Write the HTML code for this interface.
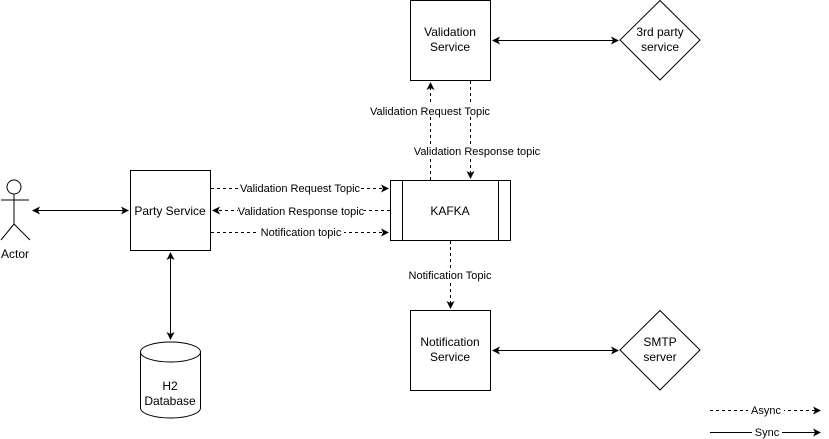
<!DOCTYPE html>
<html><head><style>body{margin:0;background:#fff}svg{display:block}text{font-family:"Liberation Sans",sans-serif;font-size:12px;fill:#000}</style></head><body>
<svg width="829" height="439" viewBox="0 0 829 439" xmlns="http://www.w3.org/2000/svg">
<defs><marker id="a" markerWidth="8" markerHeight="8" refX="7" refY="4" orient="auto-start-reverse" markerUnits="userSpaceOnUse"><path d="M0,0 L8,4 L0,8 L2,4 Z" fill="#000"/></marker></defs>
<g stroke="#000" fill="none" stroke-width="1">
<circle cx="14" cy="187" r="7" fill="#fff"/>
<line x1="14" y1="194" x2="14" y2="224"/><line x1="1" y1="200" x2="29" y2="200"/>
<line x1="14" y1="224" x2="1" y2="240"/><line x1="14" y1="224" x2="30" y2="240"/>
<rect x="130.5" y="170.5" width="80" height="80" fill="#fff"/>
<rect x="390.5" y="180.5" width="120" height="60" fill="#fff"/>
<line x1="402.5" y1="180.5" x2="402.5" y2="240.5"/><line x1="498.5" y1="180.5" x2="498.5" y2="240.5"/>
<rect x="410.5" y="0.5" width="80" height="80" fill="#fff"/>
<rect x="410.5" y="310.5" width="80" height="80" fill="#fff"/>
<path d="M660,0.5 L700,40 L660,80 L620,40 Z" fill="#fff"/>
<path d="M660,310.5 L700,350 L660,390 L620,350 Z" fill="#fff"/>
<path d="M140.5,352 L140.5,408 A30,10 0 0 0 200.5,408 L200.5,352 A30,10 0 0 0 140.5,352 A30,10 0 0 0 200.5,352" fill="#fff"/>
<line x1="33" y1="210.5" x2="128" y2="210.5" marker-start="url(#a)" marker-end="url(#a)"/>
<line x1="170.5" y1="253" x2="170.5" y2="339" marker-start="url(#a)" marker-end="url(#a)"/>
<line x1="493" y1="40.5" x2="618" y2="40.5" marker-start="url(#a)" marker-end="url(#a)"/>
<line x1="493" y1="350.5" x2="618" y2="350.5" marker-start="url(#a)" marker-end="url(#a)"/>
<g stroke-dasharray="3,3">
<line x1="211" y1="188.5" x2="388" y2="188.5" marker-end="url(#a)"/>
<line x1="390" y1="210.5" x2="213" y2="210.5" marker-end="url(#a)"/>
<line x1="211" y1="232.5" x2="388" y2="232.5" marker-end="url(#a)"/>
<line x1="430.5" y1="180" x2="430.5" y2="83" marker-end="url(#a)"/>
<line x1="470.5" y1="81" x2="470.5" y2="178" marker-end="url(#a)"/>
<line x1="450.5" y1="241" x2="450.5" y2="308" marker-end="url(#a)"/>
<line x1="710" y1="410.5" x2="820" y2="410.5" marker-end="url(#a)"/>
</g>
<line x1="710" y1="432.5" x2="820" y2="432.5" marker-end="url(#a)"/>
</g>
<g text-anchor="middle" font-size="11">
<g style="fill:#fff" ><rect x="240" y="182" width="120" height="13" fill="#fff"/><rect x="238" y="204" width="126" height="13" fill="#fff"/><rect x="258" y="226" width="86" height="13" fill="#fff"/><rect x="370" y="104" width="120" height="13" fill="#fff"/><rect x="414" y="144" width="126" height="13" fill="#fff"/><rect x="408" y="268" width="84" height="13" fill="#fff"/><rect x="748" y="404" width="36" height="13" fill="#fff"/><rect x="752" y="426" width="30" height="13" fill="#fff"/></g>
<text x="300" y="192" style="font-size:11px">Validation Request Topic</text>
<text x="301" y="215" style="font-size:11px">Validation Response topic</text>
<text x="301" y="236" style="font-size:11px">Notification topic</text>
<text x="430" y="115" style="font-size:11px">Validation Request Topic</text>
<text x="477" y="155" style="font-size:11px">Validation Response topic</text>
<text x="450" y="279" style="font-size:11px">Notification Topic</text>
<text x="766" y="414" style="font-size:11px">Async</text>
<text x="767" y="436" style="font-size:11px">Sync</text>
<text x="170" y="215">Party Service</text>
<text x="450" y="215">KAFKA</text>
<text x="450" y="36">Validation</text><text x="450" y="51">Service</text>
<text x="450" y="346">Notification</text><text x="450" y="361">Service</text>
<text x="660" y="36">3rd party</text><text x="660" y="51">service</text>
<text x="660" y="346">SMTP</text><text x="660" y="361">server</text>
<text x="170" y="390">H2</text><text x="170" y="405">Database</text>
<text x="15" y="258">Actor</text>
</g>
</svg>
</body></html>
